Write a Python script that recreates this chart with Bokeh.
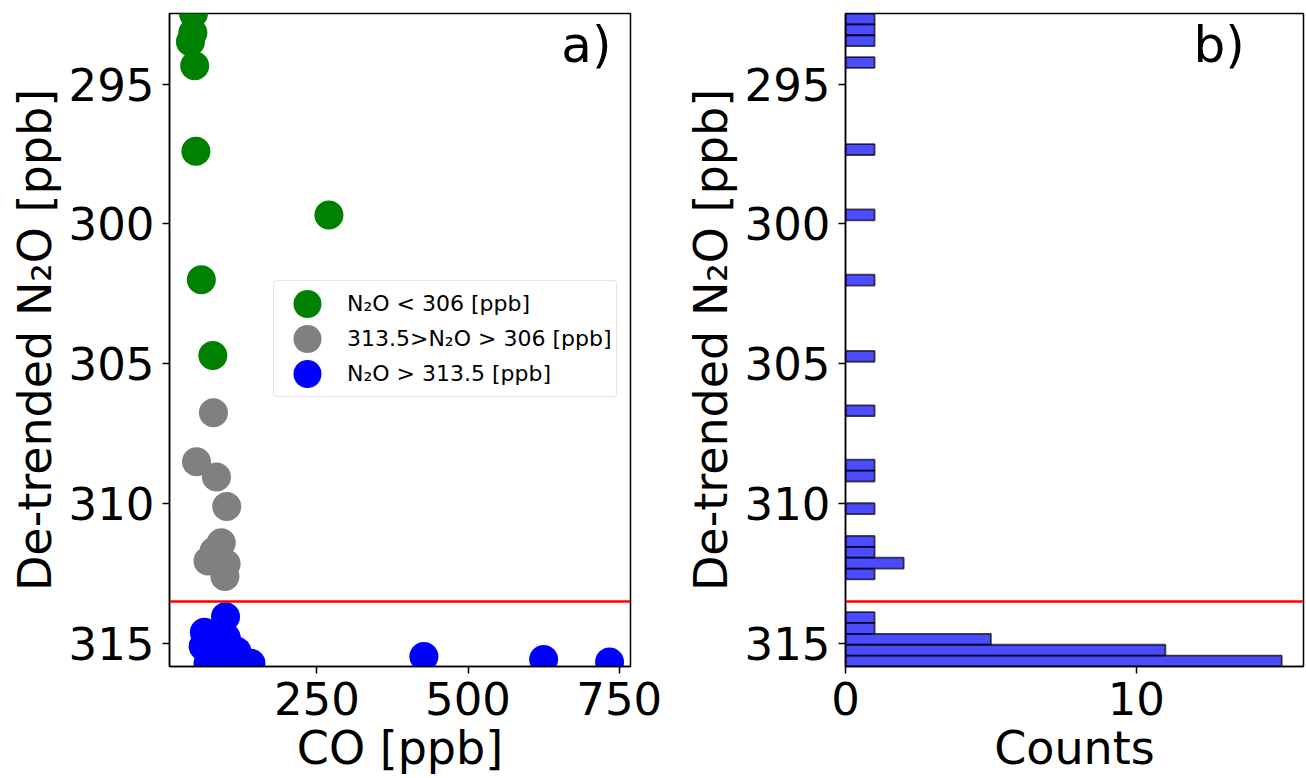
import numpy as np
from bokeh.plotting import figure
from bokeh.layouts import row
from bokeh.models import Range1d, FixedTicker, Legend, LegendItem, Span, Label
from bokeh.embed import file_html
from bokeh.resources import INLINE

# ---------------- data ----------------
green_co = [46, 45, 41, 48, 50, 270, 59, 78]
green_n2o = [292.48, 293.17, 293.49, 294.35, 297.40, 299.68, 302.00, 304.70]

gray_co = [79, 51, 84, 101, 92, 80, 70, 100, 98]
gray_n2o = [306.75, 308.50, 309.05, 310.10, 311.40, 311.70, 312.05, 312.15, 312.60]

blue_co = [99, 64,
           75, 90, 68, 100, 84,
           62, 72, 80, 88, 95, 105, 110, 70, 85, 100, 118,
           427, 625, 734, 141, 75, 82, 90, 98, 108, 115, 125, 70, 95, 103, 130]
blue_n2o = [314.04, 314.60,
            314.72, 314.80, 314.88, 314.78, 314.97,
            315.10, 315.15, 315.20, 315.12, 315.25, 315.30, 315.18, 315.35, 315.38, 315.40, 315.28,
            315.46, 315.57, 315.66, 315.70, 315.48, 315.55, 315.60, 315.52, 315.65, 315.75, 315.62,
            315.72, 315.78, 315.82, 315.74]

threshold = 313.5
n_bins = 60
y_ticks = [295, 300, 305, 310, 315]
co_ticks = [250, 500, 750]
count_ticks = [0, 10]
legend_labels = ["N\u2082O < 306 [ppb]", "313.5>N\u2082O > 306 [ppb]", "N\u2082O > 313.5 [ppb]"]
series_colors = ["#008000", "#808080", "#0000ff"]
y_label = "De-trended N\u2082O [ppb]"
panel_tags = ["a)", "b)"]

# ---------------- derived ----------------
FONT = "DejaVu Sans"
all_y = np.array(green_n2o + gray_n2o + blue_n2o)
all_x = np.array(green_co + gray_co + blue_co)
ymin, ymax = float(all_y.min()), float(all_y.max())
xspan = all_x.max() - all_x.min()
x0, x1 = float(all_x.min() - 0.05 * xspan), float(all_x.max() + 0.05 * xspan)

counts, edges = np.histogram(all_y, bins=n_bins)
centers = 0.5 * (edges[:-1] + edges[1:])
heights = np.diff(edges)
nz = counts > 0
cmax = float(counts.max()) * 1.05

H = 778


def style(p, xlabel):
    p.outline_line_color = "black"
    p.outline_line_width = 1.5
    p.xgrid.visible = False
    p.ygrid.visible = False
    p.background_fill_color = "white"
    p.border_fill_color = "white"
    p.xaxis.axis_label = xlabel
    p.yaxis.axis_label = y_label
    for ax in (p.xaxis[0], p.yaxis[0]):
        ax.major_label_text_font = FONT
        ax.major_label_text_font_size = "45px"
        ax.major_label_text_color = "black"
        ax.axis_label_text_font = FONT
        ax.axis_label_text_font_size = "46px"
        ax.axis_label_text_font_style = "normal"
        ax.axis_label_text_color = "black"
        ax.major_tick_out = 7
        ax.major_tick_in = 0
        ax.minor_tick_out = 0
        ax.minor_tick_in = 0
        ax.major_tick_line_width = 1.5
        ax.major_tick_line_color = "black"
        ax.axis_line_width = 1.5
        ax.axis_line_color = "black"
    p.xaxis[0].major_label_standoff = 8
    p.xaxis[0].axis_label_standoff = 3
    p.yaxis[0].major_label_standoff = 8
    p.yaxis[0].axis_label_standoff = 4
    p.yaxis[0].ticker = FixedTicker(ticks=y_ticks)


def y_at(frac_from_bottom):
    return ymax + frac_from_bottom * (ymin - ymax)


# ---------------- panel a ----------------
p1 = figure(width=679, height=H, output_backend="svg", toolbar_location=None,
            x_range=Range1d(x0, x1), y_range=Range1d(ymax, ymin),
            min_border_left=169, min_border_right=49, min_border_top=13, min_border_bottom=112)
style(p1, "CO [ppb]")
p1.xaxis[0].ticker = FixedTicker(ticks=co_ticks)

renderers = []
for xs, ys, c in ((green_co, green_n2o, series_colors[0]),
                  (gray_co, gray_n2o, series_colors[1]),
                  (blue_co, blue_n2o, series_colors[2])):
    r = p1.ellipse(x=xs, y=ys, width=29, height=29, width_units="screen",
                   height_units="screen", fill_color=c, line_color=None)
    renderers.append(r)

p1.add_layout(Span(location=threshold, dimension="width", line_color="red", line_width=2.5))

legend = Legend(items=[LegendItem(label=l, renderers=[r]) for l, r in zip(legend_labels, renderers)],
                location=(104, 269), orientation="vertical",
                glyph_width=56, glyph_height=35, spacing=0, padding=5,
                label_standoff=12, label_text_font=FONT, label_text_font_size="22px",
                label_text_color="black", label_height=35,
                border_line_color="#cccccc", border_line_width=1.2,
                background_fill_color="white", background_fill_alpha=0.8)
try:
    legend.border_radius = 4
except Exception:
    pass
p1.add_layout(legend)

p1.add_layout(Label(x=x0 + 0.85 * (x1 - x0), y=y_at(0.951), text=panel_tags[0],
                    text_font=FONT, text_font_size="50px", text_color="black",
                    text_align="left", text_baseline="alphabetic"))

# ---------------- panel b ----------------
p2 = figure(width=627, height=H, output_backend="svg", toolbar_location=None,
            x_range=Range1d(0, cmax), y_range=Range1d(ymax, ymin),
            min_border_left=166, min_border_right=3, min_border_top=13, min_border_bottom=112)
style(p2, "Counts")
p2.xaxis[0].ticker = FixedTicker(ticks=count_ticks)

p2.hbar(y=centers[nz], height=heights[nz], left=0, right=counts[nz],
        fill_color="blue", fill_alpha=0.7, line_color="black", line_alpha=0.7, line_width=1.8)
p2.add_layout(Span(location=threshold, dimension="width", line_color="red", line_width=2.5))
p2.add_layout(Label(x=0.76 * cmax, y=y_at(0.951), text=panel_tags[1],
                    text_font=FONT, text_font_size="50px", text_color="black",
                    text_align="left", text_baseline="alphabetic"))

layout = row(p1, p2)
open("out.html", "w").write(file_html(layout, INLINE))
